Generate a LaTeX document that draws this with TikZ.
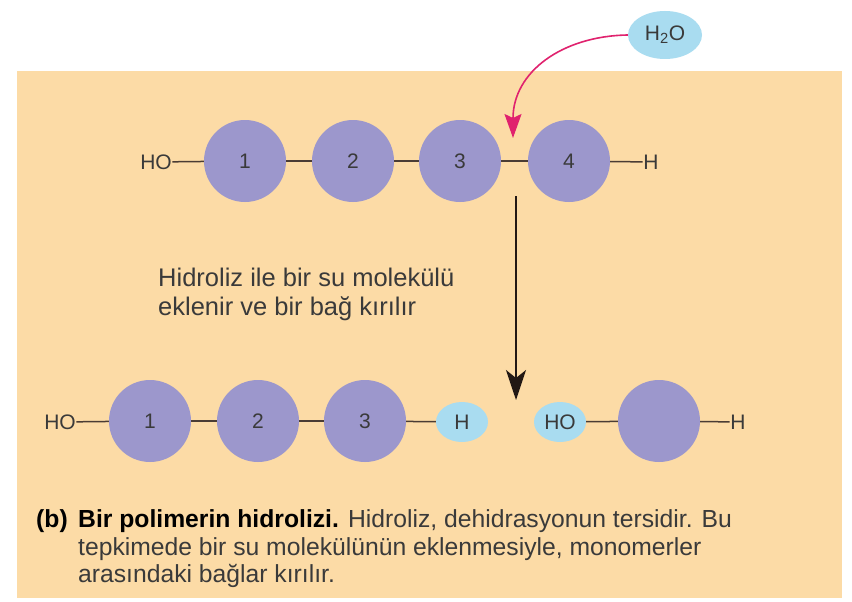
\documentclass[tikz,border=0pt]{standalone}
\usepackage{fontspec}
\setmainfont{Liberation Sans}
\usetikzlibrary{arrows.meta,shapes.geometric}
\definecolor{bgpeach}{HTML}{FCDBA6}
\definecolor{mono}{HTML}{9C97CC}
\definecolor{water}{HTML}{A9DCF0}
\definecolor{bond}{HTML}{4A3C34}
\definecolor{arrowdark}{HTML}{221814}
\definecolor{txt}{HTML}{3A3A3A}
\definecolor{pinkarr}{HTML}{E0226E}
\begin{document}
\begin{tikzpicture}[x=1pt,y=-1pt,
  monomer/.style={circle, fill=mono, minimum size=82pt, inner sep=0pt, text=txt, font=\fontsize{21}{21}\selectfont},
  waterbub/.style={ellipse, fill=water, minimum width=52pt, minimum height=40pt, inner sep=0pt, text=txt, font=\fontsize{21}{21}\selectfont},
  grp/.style={inner sep=0.5pt, text=txt, font=\fontsize{21}{21}\selectfont},
  bondline/.style={draw=bond, line width=1.5pt},
  note/.style={inner sep=0pt, anchor=base west, text=txt, font=\fontsize{25.5}{25.5}\selectfont},
  captxt/.style={inner sep=0pt, anchor=base west, text=txt, font=\fontsize{24.7}{24.7}\selectfont}
]
\useasboundingbox (0,0) rectangle (852,602);
\fill[white] (0,0) rectangle (852,602);
\fill[bgpeach] (17,71) rectangle (842,598);

% water molecule
\node[waterbub, minimum width=74pt, minimum height=48pt] (h2o) at (665,35) {H$_{\mathrm{2}}$O};

% row 1: polymer
\node[grp] (ho1) at (156,162) {HO};
\node[monomer] (a1) at (245,161) {1};
\node[monomer] (a2) at (353,161) {2};
\node[monomer] (a3) at (460,161) {3};
\node[monomer] (a4) at (569,161) {4};
\node[grp] (h1) at (651,162) {H};
\draw[bondline] (ho1) -- (a1);
\draw[bondline] (a1) -- (a2);
\draw[bondline] (a2) -- (a3);
\draw[bondline] (a3) -- (a4);
\draw[bondline] (a4) -- (h1);

% arrows
\coordinate (brk) at (513,138);
\draw[pinkarr, line width=1.6pt, -{Stealth[length=24pt,width=17pt,inset=4pt]}]
  (h2o.west) .. controls (562,36) and (513,72) .. (brk);
\coordinate (vtop) at (516,196);
\coordinate (vbot) at (516,400);
\draw[arrowdark, line width=1.7pt, -{Stealth[length=30pt,width=20pt,inset=8pt]}] (vtop) -- (vbot);

% note
\node[note] (n1) at (158,286) {Hidroliz ile bir su  molekülü};
\node[note] (n2) at (158,315) {eklenir ve bir bağ kırılır};

% row 2: products
\node[grp] (ho2) at (60,422) {HO};
\node[monomer] (b1) at (150,421) {1};
\node[monomer] (b2) at (258,421) {2};
\node[monomer] (b3) at (365,421) {3};
\node[waterbub] (hw) at (462,422) {H};
\node[waterbub] (how) at (560,422) {HO};
\node[monomer] (b4) at (659,421) {};
\node[grp] (h2) at (738,422) {H};
\draw[bondline] (ho2) -- (b1);
\draw[bondline] (b1) -- (b2);
\draw[bondline] (b2) -- (b3);
\draw[bondline] (b3) -- (hw);
\draw[bondline] (how) -- (b4);
\draw[bondline] (b4) -- (h2);

% caption
\node[captxt, font=\fontsize{24.7}{24.7}\selectfont\bfseries, text=black] (lbl) at (36,527) {(b)};
\node[captxt] (c1) at (78,527) {\textbf{\color{black}Bir polimerin hidrolizi.} Hidroliz, dehidrasyonun tersidir. Bu};
\node[captxt] (c2) at (78,555) {tepkimede bir su molekülünün eklenmesiyle, monomerler};
\node[captxt] (c3) at (78,582) {arasındaki bağlar kırılır.};
\end{tikzpicture}
\end{document}
